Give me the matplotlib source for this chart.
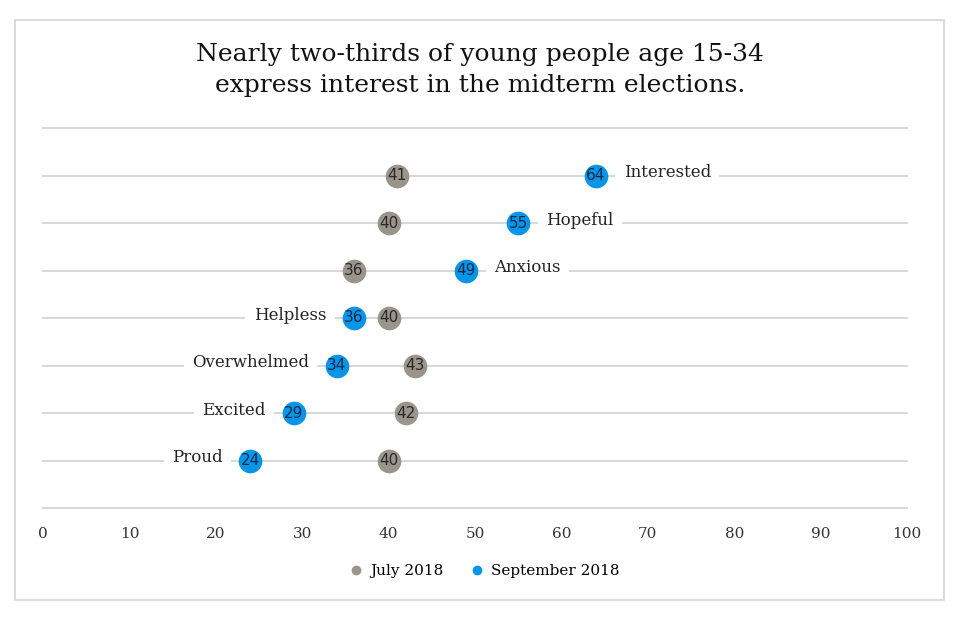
import matplotlib
matplotlib.use("Agg")
import matplotlib.pyplot as plt
from matplotlib.patches import Rectangle
from matplotlib.lines import Line2D

categories = ["Interested", "Hopeful", "Anxious", "Helpless", "Overwhelmed", "Excited", "Proud"]
july = [41, 40, 36, 40, 43, 42, 40]
september = [64, 55, 49, 36, 34, 29, 24]
xticks = [0, 10, 20, 30, 40, 50, 60, 70, 80, 90, 100]
title = "Nearly two-thirds of young people age 15-34\nexpress interest in the midterm elections."
series_names = ["July 2018", "September 2018"]

GRAY = "#9a948b"
BLUE = "#0795e8"
TXT = "#222222"
SERIF = ["DejaVu Serif"]

fig = plt.figure(figsize=(9.6, 6.18), dpi=100)
fig.patch.set_facecolor("white")
fig.patches.append(Rectangle((15/960, 1-600/618), (944-15)/960, (600-20)/618,
                             transform=fig.transFigure, fill=False,
                             edgecolor="#d6d6d6", linewidth=1.2))

ax = fig.add_axes([43/960, 1-508/618, (907-43)/960, (508-128)/618])
n = len(categories)
ax.set_xlim(0, 100)
ax.set_ylim(n + 1, 0)
ys = list(range(1, n + 1))

for y in range(0, n + 2):
    ax.axhline(y, color="#d4d4d4", linewidth=1.3, zorder=1, clip_on=False)

ax.scatter(july, ys, s=290, color=GRAY, zorder=4, linewidths=0)
ax.scatter(september, ys, s=290, color=BLUE, zorder=4, linewidths=0)
for x, y in zip(july, ys):
    ax.text(x, y, str(x), ha="center", va="center", fontsize=11,
            color="#2a2a2a", zorder=5, family=["DejaVu Sans"])
for x, y in zip(september, ys):
    ax.text(x, y, str(x), ha="center", va="center", fontsize=11,
            color="#0b2a4a", zorder=5, family=["DejaVu Sans"])

for cat, j, s, y in zip(categories, july, september, ys):
    if s >= j:
        off, ha = 20, "left"
    else:
        off, ha = -20, "right"
    ax.annotate(cat, (s, y), xytext=(off, 2), textcoords="offset points",
                ha=ha, va="center", fontsize=12, color=TXT, family=SERIF,
                zorder=3,
                bbox=dict(boxstyle="square,pad=0.5", facecolor="white", edgecolor="none"))

ax.set_xticks(xticks)
ax.set_xticklabels([str(t) for t in xticks], family=SERIF, fontsize=11, color="#333333")
ax.tick_params(axis="x", length=0, pad=14)
ax.set_yticks([])
for sp in ax.spines.values():
    sp.set_visible(False)

fig.text(0.5, 1-70/618, title, ha="center", va="center", fontsize=18,
         color="#111111", family=SERIF, linespacing=1.45)

handles = [Line2D([], [], marker="o", linestyle="none", color=GRAY, markersize=6),
           Line2D([], [], marker="o", linestyle="none", color=BLUE, markersize=6)]
fig.legend(handles, series_names, loc="center", bbox_to_anchor=(0.5, 1-571/618),
           ncol=2, frameon=False, handletextpad=-0.1, columnspacing=1.2,
           prop={"family": SERIF, "size": 11})

fig.savefig("out.png", dpi=100, facecolor="white")
